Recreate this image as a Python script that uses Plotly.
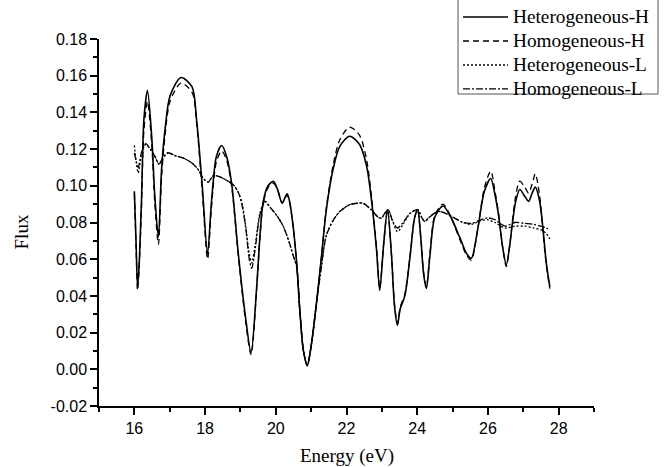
import plotly.graph_objects as go

# Energy grid for the high-flux (H) curves, in eV
energy_h = [16.00, 16.05, 16.09, 16.13, 16.20, 16.27, 16.37, 16.49, 16.58, 16.68,
            16.77, 16.87, 17.01, 17.32, 17.63, 17.76, 17.92, 18.07, 18.18, 18.32,
            18.47, 18.61, 18.75, 18.94, 19.14, 19.30, 19.46, 19.55, 19.64, 19.78,
            19.93, 20.05, 20.18, 20.32, 20.40, 20.49, 20.59, 20.68, 20.78, 20.89,
            21.01, 21.15, 21.29, 21.43, 21.62, 21.81, 22.09, 22.37, 22.57, 22.72,
            22.85, 22.94, 23.05, 23.16, 23.27, 23.36, 23.44, 23.52, 23.65, 23.80,
            23.92, 24.01, 24.10, 24.18, 24.26, 24.36, 24.50, 24.73, 24.95, 25.20,
            25.40, 25.53, 25.70, 25.90, 26.08, 26.20, 26.30, 26.42, 26.52, 26.62,
            26.67, 26.78, 26.90, 27.05, 27.15, 27.25, 27.34, 27.46, 27.56, 27.65,
            27.75]

flux_het_h = [0.097, 0.068, 0.045, 0.055, 0.091, 0.136, 0.152, 0.127, 0.094, 0.072,
              0.109, 0.131, 0.149, 0.159, 0.154, 0.136, 0.100, 0.063, 0.091, 0.116,
              0.122, 0.116, 0.1015, 0.063, 0.029, 0.009, 0.045, 0.072, 0.091, 0.100,
              0.1024, 0.098, 0.0906, 0.0957, 0.0906, 0.078, 0.058, 0.032, 0.0104, 0.002,
              0.014, 0.036, 0.061, 0.087, 0.109, 0.1215, 0.127, 0.1225, 0.1106, 0.090,
              0.065, 0.043, 0.068, 0.087, 0.063, 0.034, 0.024, 0.033, 0.040, 0.062,
              0.082, 0.087, 0.072, 0.052, 0.044, 0.062, 0.083, 0.089, 0.083, 0.072,
              0.063, 0.0605, 0.075, 0.097, 0.104, 0.095, 0.084, 0.066, 0.057, 0.068,
              0.076, 0.091, 0.098, 0.094, 0.0915, 0.096, 0.0993, 0.092, 0.076, 0.058,
              0.045]

flux_hom_h = [0.096, 0.066, 0.043, 0.053, 0.087, 0.130, 0.146, 0.123, 0.090, 0.068,
              0.105, 0.128, 0.146, 0.156, 0.151, 0.134, 0.097, 0.060, 0.088, 0.113,
              0.119, 0.114, 0.100, 0.062, 0.027, 0.008, 0.044, 0.071, 0.090, 0.099,
              0.1015, 0.098, 0.0906, 0.095, 0.090, 0.078, 0.058, 0.032, 0.010, 0.002,
              0.014, 0.036, 0.061, 0.088, 0.111, 0.125, 0.132, 0.1275, 0.114, 0.092,
              0.066, 0.044, 0.068, 0.087, 0.063, 0.035, 0.025, 0.034, 0.041, 0.062,
              0.082, 0.087, 0.072, 0.053, 0.045, 0.063, 0.084, 0.090, 0.083, 0.071,
              0.062, 0.0595, 0.075, 0.099, 0.108, 0.097, 0.085, 0.066, 0.056, 0.068,
              0.077, 0.094, 0.1025, 0.099, 0.096, 0.101, 0.1065, 0.095, 0.074, 0.057,
              0.044]

# Energy grid for the low-flux (L) curves, in eV
energy_l = [16.00, 16.06, 16.11, 16.20, 16.32, 16.45, 16.58, 16.70, 16.80, 16.95,
            17.15, 17.40, 17.62, 17.80, 17.95, 18.09, 18.23, 18.40, 18.56, 18.80,
            18.95, 19.05, 19.15, 19.25, 19.32, 19.42, 19.55, 19.69, 19.85, 20.02,
            20.21, 20.40, 20.49, 20.59, 20.68, 20.78, 20.89, 21.01, 21.15, 21.29,
            21.43, 21.62, 21.81, 22.09, 22.30, 22.47, 22.70, 22.89, 22.99, 23.08,
            23.18, 23.30, 23.44, 23.60, 23.80, 24.01, 24.12, 24.21, 24.35, 24.59,
            24.80, 25.00, 25.30, 25.53, 25.80, 26.00, 26.20, 26.48, 26.76, 27.04,
            27.30, 27.50, 27.65, 27.75]

flux_het_l = [0.122, 0.112, 0.107, 0.117, 0.1225, 0.120, 0.116, 0.1115, 0.115, 0.118,
              0.1165, 0.115, 0.1125, 0.109, 0.104, 0.102, 0.1055, 0.105, 0.1035, 0.1005,
              0.096, 0.090, 0.078, 0.063, 0.058, 0.068, 0.085, 0.0915, 0.088, 0.084,
              0.078, 0.068, 0.062, 0.056, 0.032, 0.0104, 0.002, 0.014, 0.036, 0.056,
              0.073, 0.081, 0.086, 0.0897, 0.0905, 0.0905, 0.087, 0.083, 0.0824, 0.085,
              0.087, 0.081, 0.075, 0.079, 0.085, 0.087, 0.083, 0.0806, 0.083, 0.086,
              0.085, 0.083, 0.080, 0.079, 0.081, 0.0815, 0.080, 0.077, 0.078, 0.078,
              0.077, 0.076, 0.074, 0.071]

flux_hom_l = [0.118, 0.113, 0.110, 0.118, 0.123, 0.120, 0.116, 0.112, 0.115, 0.118,
              0.1165, 0.115, 0.1125, 0.109, 0.104, 0.102, 0.1055, 0.105, 0.1035, 0.1005,
              0.096, 0.089, 0.077, 0.060, 0.055, 0.066, 0.084, 0.0915, 0.088, 0.084,
              0.078, 0.068, 0.062, 0.056, 0.032, 0.0104, 0.002, 0.014, 0.036, 0.056,
              0.073, 0.081, 0.086, 0.0897, 0.0905, 0.0905, 0.087, 0.083, 0.0824, 0.085,
              0.087, 0.081, 0.077, 0.080, 0.085, 0.087, 0.083, 0.0806, 0.083, 0.086,
              0.085, 0.083, 0.080, 0.0795, 0.0815, 0.0825, 0.0815, 0.078, 0.080, 0.0795,
              0.079, 0.078, 0.077, 0.076]

series_names = ["Heterogeneous-H", "Homogeneous-H", "Heterogeneous-L", "Homogeneous-L"]

y_tick_values = [-0.02, 0.00, 0.02, 0.04, 0.06, 0.08, 0.10, 0.12, 0.14, 0.16, 0.18]
y_tick_labels = ["-0.02", "0.00", "0.02", "0.04", "0.06", "0.08",
                 "0.10", "0.12", "0.14", "0.16", "0.18"]
x_tick_values = [16, 18, 20, 22, 24, 26, 28]
x_tick_labels = ["16", "18", "20", "22", "24", "26", "28"]

serif = "Liberation Serif, Times New Roman, serif"
sans = "Liberation Sans, Arial, sans-serif"

fig = go.Figure()
styles = [
    (energy_h, flux_het_h, dict(color="black", width=1.6)),
    (energy_h, flux_hom_h, dict(color="black", width=1.3, dash="6px,4px")),
    (energy_l, flux_het_l, dict(color="black", width=1.3, dash="2px,2px")),
    (energy_l, flux_hom_l, dict(color="black", width=1.3, dash="7px,2px,2px,2px")),
]
for name, (xs, ys, line) in zip(series_names, styles):
    # legend rows are packed tighter than the label size would normally give
    label = '<span style="font-size:19.3px">' + name + "</span>"
    fig.add_trace(go.Scatter(x=xs, y=ys, mode="lines", name=label,
                             line=dict(shape="spline", smoothing=0.8, **line)))

axis_common = dict(
    showline=True, linecolor="black", linewidth=1.5,
    ticks="outside", ticklen=7, tickwidth=1.5, tickcolor="black",
    showgrid=False, zeroline=False, mirror=False,
    tickfont=dict(family=sans, size=16, color="black"),
)
fig.update_xaxes(range=[15, 29], tickvals=x_tick_values, ticktext=x_tick_labels,
                 minor=dict(ticks="outside", ticklen=4, tickwidth=1.5,
                            tickcolor="black", dtick=1, tick0=15, showgrid=False),
                 **axis_common)
fig.update_yaxes(range=[-0.02, 0.18], tickvals=y_tick_values, ticktext=y_tick_labels,
                 minor=dict(ticks="outside", ticklen=4, tickwidth=1.5,
                            tickcolor="black", dtick=0.01, tick0=0, showgrid=False),
                 **axis_common)

fig.add_annotation(text="Energy (eV)", xref="paper", yref="paper", x=0.5, y=-0.135,
                   xanchor="center", yanchor="middle", showarrow=False,
                   font=dict(family=serif, size=19, color="black"))
fig.add_annotation(text="Flux", xref="paper", yref="paper", x=-0.156, y=0.475,
                   xanchor="center", yanchor="middle", showarrow=False, textangle=-90,
                   font=dict(family=serif, size=19, color="black"))

# frame around the legend, running off the top edge of the page
fig.add_shape(type="rect", xref="paper", yref="paper",
              x0=0.7253, x1=1.1293, y0=0.8501, y1=1.115,
              line=dict(color="#555555", width=1), fillcolor="rgba(0,0,0,0)",
              layer="above")

fig.update_layout(
    width=666, height=467,
    margin=dict(l=99, r=72, t=39, b=61, autoexpand=False),
    plot_bgcolor="white", paper_bgcolor="white",
    legend=dict(x=0.7253, y=1.1063, xanchor="left", yanchor="top",
                bgcolor="rgba(255,255,255,0)", borderwidth=0,
                font=dict(family=serif, size=16.15, color="black"),
                itemwidth=45, tracegroupgap=0),
)

fig.write_html("out.html")
